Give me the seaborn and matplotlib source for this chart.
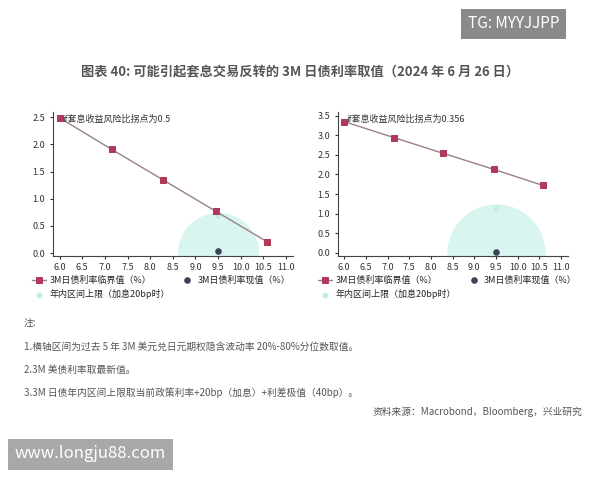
import matplotlib
matplotlib.use("Agg")
import matplotlib.pyplot as plt
import seaborn as sns
import pandas as pd

sns.set_style("white")
plt.rcParams['font.family'] = ['Noto Sans CJK SC', 'DejaVu Sans']

vol = [6.0, 7.15, 8.28, 9.45, 10.58]
left_crit = [2.49, 1.91, 1.35, 0.77, 0.21]
right_crit = [3.35, 2.94, 2.54, 2.13, 1.72]
cur_x = 9.5
left_cur, right_cur = 0.03, 0.03
left_upper, right_upper = 0.70, 1.13
left_note = "if套息收益风险比拐点为0.5"
right_note = "if套息收益风险比拐点为0.356"

fig = plt.figure(figsize=(6, 4.8), dpi=100)
fig.patch.set_facecolor("white")

specs = [
    ([0.088, 0.467, 0.40, 0.30], left_crit, left_cur, left_upper, left_note, (-0.05, 2.6), [0, .5, 1, 1.5, 2, 2.5], 3400),
    ([0.563, 0.467, 0.383, 0.30], right_crit, right_cur, right_upper, right_note, (-0.08, 3.6), [0, .5, 1, 1.5, 2, 2.5, 3, 3.5], 5000),
]
for pos, crit, cur, up, note, ylim, yt, bs in specs:
    ax = fig.add_axes(pos)
    ax.scatter([cur_x], [0], s=bs, color="#d8f5ef", zorder=1, clip_on=True, linewidths=0)
    ax.scatter([cur_x], [up], s=10, color="#bfeee4", zorder=2, label="年内区间上限（加息20bp时）", marker="o")
    df = pd.DataFrame({"x": vol, "y": crit})
    sns.lineplot(data=df, x="x", y="y", ax=ax, color="#9a8088", lw=1, marker="s", markersize=5,
                 markerfacecolor="#b03a5a", markeredgecolor="#b03a5a", label="3M日债利率临界值（%）", zorder=3)
    ax.scatter([cur_x], [cur], s=14, color="#3a4456", zorder=4, label="3M日债利率现值（%）")
    ax.set_xlim(5.85, 11.15)
    ax.set_ylim(*ylim)
    ax.set_xticks([6 + 0.5 * i for i in range(11)])
    ax.set_xticklabels([f"{6 + 0.5 * i:.1f}" for i in range(11)])
    ax.set_yticks(yt)
    ax.set_yticklabels([f"{v:.1f}" for v in yt])
    ax.tick_params(labelsize=6.5, length=2, direction="out", colors="#333333")
    ax.tick_params(axis="both", which="both", bottom=True, left=True)
    for s in ["top", "right"]:
        ax.spines[s].set_visible(False)
    for s in ["left", "bottom"]:
        ax.spines[s].set_color("#444444")
        ax.spines[s].set_linewidth(0.8)
    ax.set_xlabel(""); ax.set_ylabel("")
    ax.text(6.05, ylim[1] - 0.02 * (ylim[1] - ylim[0]), note, fontsize=6.5, va="top", color="#333333")
    h, l = ax.get_legend_handles_labels()
    order = [1, 0, 2]
    ax.legend([h[i] for i in order], [l[i] for i in order], ncol=2, loc="upper left",
              bbox_to_anchor=(-0.12, -0.08), frameon=False, fontsize=6.5, handlelength=1.5,
              columnspacing=1.2, handletextpad=0.4, labelspacing=0.5)

fig.text(0.5, 0.842, "图表 40: 可能引起套息交易反转的 3M 日债利率取值（2024 年 6 月 26 日）",
         ha="center", fontsize=9.5, color="#555555", weight="bold")
notes = ["注:", "1.横轴区间为过去 5 年 3M 美元兑日元期权隐含波动率 20%-80%分位数取值。",
         "2.3M 美债利率取最新值。", "3.3M 日债年内区间上限取当前政策利率+20bp（加息）+利差极值（40bp）。"]
for i, t in enumerate(notes):
    fig.text(0.04, 1 - (324 + i * 23) / 480, t, fontsize=7, color="#555555", va="center")
fig.text(0.97, 1 - 412 / 480, "资料来源：Macrobond，Bloomberg，兴业研究", fontsize=7, color="#555555", ha="right", va="center")
fig.text(0.78, 1 - 24 / 480, "TG: MYYJJPP", fontsize=11, color="white", va="center",
         bbox=dict(facecolor="#8a8a8a", edgecolor="none", pad=5))
fig.text(0.025, 1 - 454 / 480, "www.longju88.com", fontsize=12, color="white", va="center",
         bbox=dict(facecolor="#a8a8a8", edgecolor="none", pad=5))
fig.savefig("out.png", dpi=100)
